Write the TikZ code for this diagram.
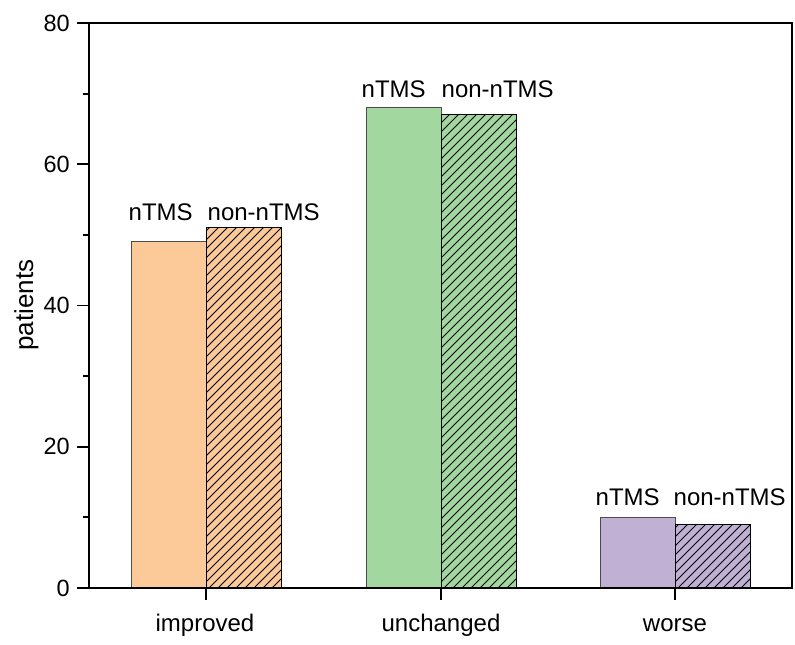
\documentclass[tikz,border=0pt]{standalone}
\usepackage{fontspec}
\setmainfont{Liberation Sans}

\definecolor{improved_fill}{RGB}{252,201,152}
\definecolor{unchanged_fill}{RGB}{162,216,160}
\definecolor{worse_fill}{RGB}{191,176,212}

% hatched bar: left, right, height
\newcommand{\hatchbar}[4]{
  \fill[#4] (#1,0) rectangle (#2,#3);
  \begin{scope}
    \clip (#1,0) rectangle (#2,#3);
    \foreach \k in {-600,-591,...,80}
       \draw[hatch_line] ([xshift = \k pt]#1,0) -- ++(620pt,620pt);
  \end{scope}
  \draw[bar_edge] (#1,0) rectangle (#2,#3);
}

\begin{document}
\begin{tikzpicture}[x=1pt, y=1pt]
\tikzset{
   frame_line/.style = {line width = 1.8pt, line cap = rect},
   bar_plain/.style = {fill = #1, draw = black!70, line width = 1pt},
   bar_edge/.style = {draw = black, line width = 1pt},
   hatch_line/.style = {line width = 0.75pt, black},
   txt/.style = {font = \fontsize{24}{28}\selectfont, inner sep = 0pt},
   tick_txt/.style = {font = \fontsize{23.5}{28}\selectfont, inner sep = 0pt, anchor = east},
   bar_txt/.style = {txt, anchor = base west}
}
  \useasboundingbox (0,0) rectangle (795,645);

\begin{scope}[shift = {(89,57)}, y = 7.0625pt]
  % bars
  \draw[bar_plain = improved_fill] (42,0) rectangle (117,49);
  \hatchbar{117}{192}{51}{improved_fill}
  \draw[bar_plain = unchanged_fill] (277,0) rectangle (352,68);
  \hatchbar{352}{427}{67}{unchanged_fill}
  \draw[bar_plain = worse_fill] (511,0) rectangle (586,10);
  \hatchbar{586}{661}{9}{worse_fill}

  % frame and ticks
  \draw[frame_line] (0,0) rectangle (703,80);
  \foreach \v in {0,20,...,80} {
     \draw[frame_line] (0,\v) -- (-11,\v);
     \node[tick_txt] (tick_\v) at (-19,\v) {\v};
  }
  \foreach \v in {10,30,...,70}
     \draw[frame_line] (0,\v) -- (-5,\v);
  \foreach \g in {117,352,586}
     \draw[frame_line] (\g,0) -- (\g,-1.55);

  % labels
  \node[txt, anchor = base] (improved) at (116,-6.23) {improved};
  \node[txt, anchor = base] (unchanged) at (352,-6.23) {unchanged};
  \node[txt, anchor = base] (worse) at (586,-6.23) {worse};
  \node[txt, font = \fontsize{26}{30}\selectfont, anchor = base, rotate = 90] (patients) at (-56,40.07) {patients};

  \node[bar_txt] (improved_ntms) at (39.5,52.0) {nTMS};
  \node[bar_txt] (improved_non) at (118.5,52.0) {non-nTMS};
  \node[bar_txt] (unchanged_ntms) at (272.5,69.4) {nTMS};
  \node[bar_txt] (unchanged_non) at (352.5,69.4) {non-nTMS};
  \node[bar_txt] (worse_ntms) at (506.5,11.7) {nTMS};
  \node[bar_txt] (worse_non) at (584.5,11.7) {non-nTMS};
\end{scope}
\end{tikzpicture}
\end{document}
